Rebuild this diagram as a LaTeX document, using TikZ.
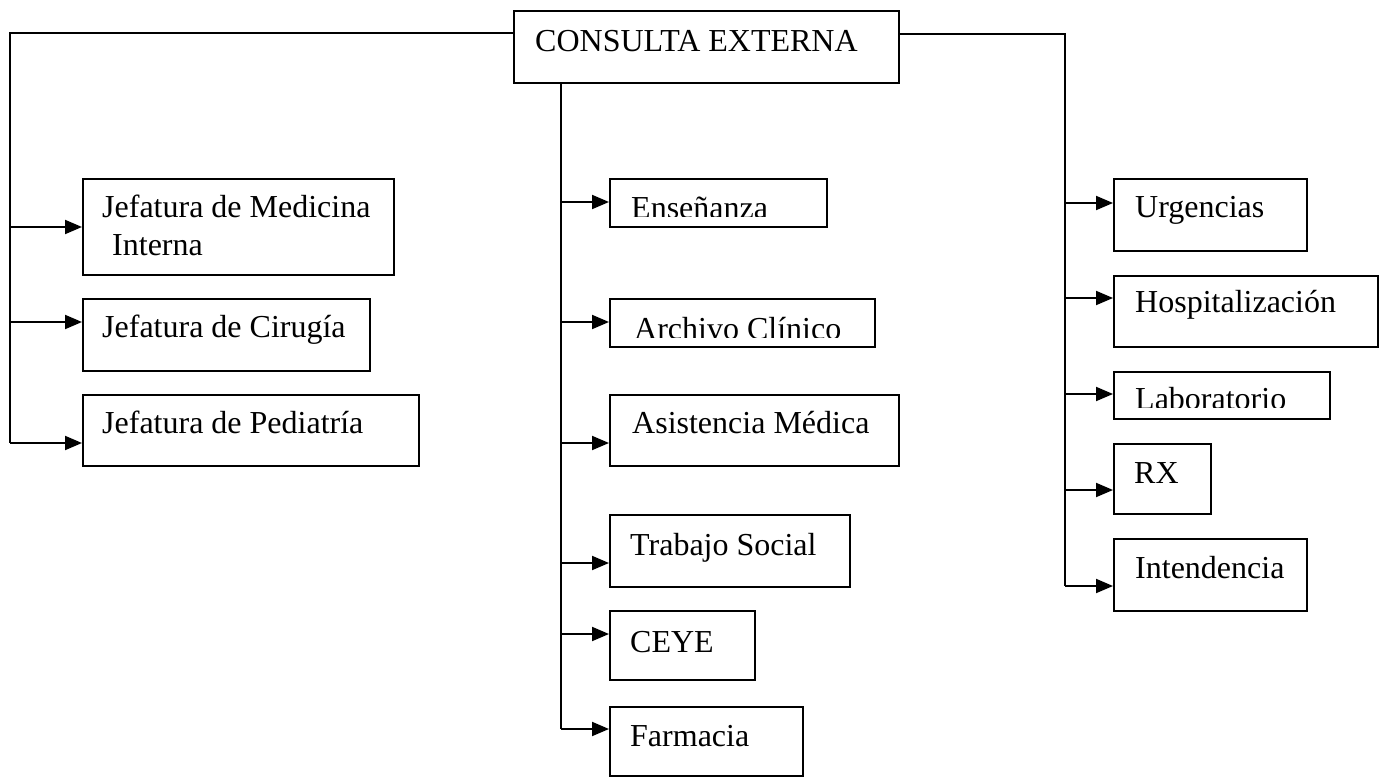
\documentclass[tikz,border=0pt]{standalone}
\usepackage{fontspec}
\setmainfont{Liberation Serif}
\usetikzlibrary{arrows.meta}

\begin{document}
\begin{tikzpicture}[x=1pt,y=-1pt,
  wire/.style={line width=2pt},
  arr/.style={line width=2pt,-{Triangle[length=17pt,width=14pt]}},
  box/.style={draw,line width=2pt,inner sep=0pt,anchor=north west},
  lbl/.style={inner sep=0pt,anchor=base west,font=\fontsize{32}{37}\selectfont}]
\useasboundingbox (0,0) rectangle (1379,778);

% head box
\node[box,minimum width=385pt,minimum height=72pt] (top) at (513,10) {};
\node[lbl] (topT) at (535,52) {CONSULTA EXTERNA};

% left column
\node[box,minimum width=311pt,minimum height=96pt] (med) at (82,178) {};
\node[lbl] (medT) at (102,218) {Jefatura de Medicina};
\node[lbl] (medT2) at (112,255) {Interna};
\node[box,minimum width=287pt,minimum height=72pt] (cir) at (82,298) {};
\node[lbl] (cirT) at (102,337) {Jefatura de Cirugía};
\node[box,minimum width=336pt,minimum height=71pt] (ped) at (82,394) {};
\node[lbl] (pedT) at (102,433) {Jefatura de Pediatría};

% middle column
\node[box,minimum width=217pt,minimum height=48pt] (ens) at (609,178) {};
\node[box,minimum width=265pt,minimum height=48pt] (arc) at (609,298) {};
\node[box,minimum width=289pt,minimum height=71pt] (asi) at (609,394) {};
\node[lbl] (asiT) at (632,433) {Asistencia Médica};
\node[box,minimum width=240pt,minimum height=72pt] (tra) at (609,514) {};
\node[lbl] (traT) at (630,555) {Trabajo Social};
\node[box,minimum width=145pt,minimum height=69pt] (cey) at (609,610) {};
\node[lbl] (ceyT) at (630,652) {CEYE};
\node[box,minimum width=193pt,minimum height=69pt] (far) at (609,706) {};
\node[lbl] (farT) at (630,746) {Farmacia};

% right column
\node[box,minimum width=193pt,minimum height=72pt] (urg) at (1113,178) {};
\node[lbl] (urgT) at (1135,218) {Urgencias};
\node[box,minimum width=264pt,minimum height=71pt] (hos) at (1113,275) {};
\node[lbl] (hosT) at (1135,312) {Hospitalización};
\node[box,minimum width=216pt,minimum height=47pt] (lab) at (1113,371) {};
\node[box,minimum width=97pt,minimum height=70pt] (rx) at (1113,443) {};
\node[lbl] (rxT) at (1134,483) {RX};
\node[box,minimum width=193pt,minimum height=72pt] (int) at (1113,538) {};
\node[lbl] (intT) at (1135,578) {Intendencia};

% labels cut off at the lower edge of their frames
\begin{scope}
  \clip (ens.north west) rectangle (826,217);
  \node[lbl] (ensT) at (631,219) {Enseñanza};
\end{scope}
\begin{scope}
  \clip (arc.north west) rectangle (874,337);
  \node[lbl] (arcT) at (634,339) {Archivo Clínico};
\end{scope}
\begin{scope}
  \clip (lab.north west) rectangle (1329,407);
  \node[lbl] (labT) at (1135,409) {Laboratorio};
\end{scope}

% trunks
\coordinate (lt) at (10,33);
\coordinate (lb) at (10,443);
\coordinate (mb) at (561,729);
\coordinate (rt) at (1065,34);
\coordinate (rb) at (1065,586);
\draw[wire] (top.west |- lt) -- (lt) -- (lb);
\draw[wire] (top.south -| mb) -- (mb);
\draw[wire] (top.east |- rt) -- (rt) -- (rb);

% left branches
\coordinate (l1) at (10,227);
\coordinate (l2) at (10,322);
\draw[arr] (l1) -- (l1 -| med.west);
\draw[arr] (l2) -- (l2 -| cir.west);
\draw[arr] (lb) -- (lb -| ped.west);

% middle branches
\coordinate (m1) at (561,202);
\coordinate (m2) at (561,322);
\coordinate (m3) at (561,443);
\coordinate (m4) at (561,563);
\coordinate (m5) at (561,634);
\draw[arr] (m1) -- (m1 -| ens.west);
\draw[arr] (m2) -- (m2 -| arc.west);
\draw[arr] (m3) -- (m3 -| asi.west);
\draw[arr] (m4) -- (m4 -| tra.west);
\draw[arr] (m5) -- (m5 -| cey.west);
\draw[arr] (mb) -- (mb -| far.west);

% right branches
\coordinate (r1) at (1065,203);
\coordinate (r2) at (1065,298);
\coordinate (r3) at (1065,394);
\coordinate (r4) at (1065,490);
\draw[arr] (r1) -- (r1 -| urg.west);
\draw[arr] (r2) -- (r2 -| hos.west);
\draw[arr] (r3) -- (r3 -| lab.west);
\draw[arr] (r4) -- (r4 -| rx.west);
\draw[arr] (rb) -- (rb -| int.west);
\end{tikzpicture}
\end{document}
